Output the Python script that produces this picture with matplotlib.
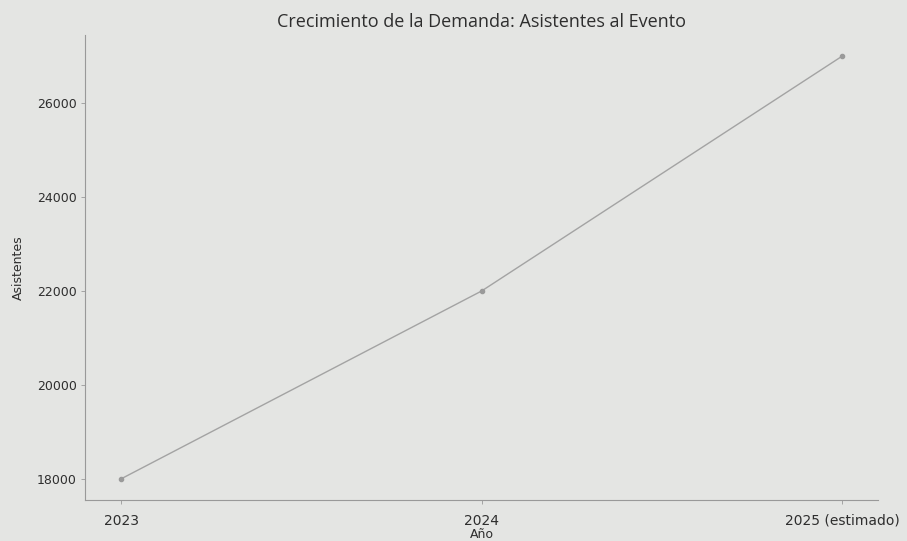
import matplotlib
matplotlib.use("Agg")
import matplotlib.pyplot as plt

years = ["2023", "2024", "2025 (estimado)"]
attendees = [18000, 22000, 27000]
yticks = [18000, 20000, 22000, 24000, 26000]

bg = "#e4e5e3"
txt = "#2e2e2e"
fig = plt.figure(figsize=(9.07, 5.41), dpi=100, facecolor=bg)
ax = fig.add_axes([0.094, 0.076, 0.874, 0.859])
ax.set_facecolor(bg)

x = list(range(len(years)))
ax.plot(x, attendees, color="#a3a3a3", lw=1.0, marker="o", ms=3, mfc="#9a9a9a", mec="#9a9a9a")

ax.set_xticks(x)
ax.set_xticklabels(years, fontsize=10, color=txt)
ax.set_yticks(yticks)
ax.set_yticklabels([str(v) for v in yticks], fontsize=9, color=txt)
ax.tick_params(axis="both", length=3, width=0.6, color="#999999", pad=3)
ax.tick_params(axis="x", pad=7)
for s in ["top", "right"]:
    ax.spines[s].set_visible(False)
for s in ["left", "bottom"]:
    ax.spines[s].set_color("#999999")
    ax.spines[s].set_linewidth(0.8)

ax.set_title("Crecimiento de la Demanda: Asistentes al Evento", fontsize=13,
             color=txt, family=["Open Sans", "DejaVu Sans"], pad=6)
ax.set_xlabel("Año", fontsize=9, color=txt, labelpad=0)
ax.set_ylabel("Asistentes", fontsize=9, color=txt, labelpad=9)

fig.savefig("out.png", dpi=100, facecolor=bg)
